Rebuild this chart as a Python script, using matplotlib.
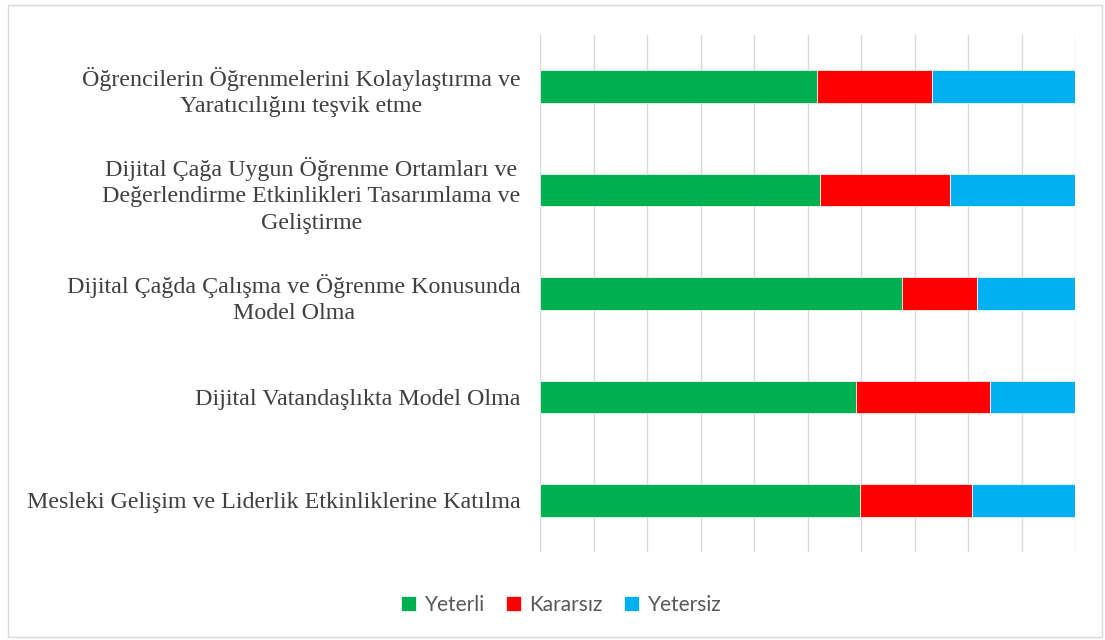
import matplotlib.pyplot as plt
import numpy as np
from matplotlib.patches import Rectangle

# Kategoriler (yukarıdan aşağıya)
categories = [
    'Öğrencilerin Öğrenmelerini Kolaylaştırma ve\nYaratıcılığını teşvik etme',
    'Dijital Çağa Uygun Öğrenme Ortamları ve\nDeğerlendirme Etkinlikleri Tasarımlama ve\nGeliştirme',
    'Dijital Çağda Çalışma ve Öğrenme Konusunda\nModel Olma',
    'Dijital Vatandaşlıkta Model Olma',
    'Mesleki Gelişim ve Liderlik Etkinliklerine Katılma',
]
yeterli = [51.7, 52.3, 67.6, 59.1, 59.8]
kararsiz = [21.6, 24.4, 14.1, 25.0, 20.9]
yetersiz = [26.7, 23.3, 18.3, 15.9, 19.3]

series = ['Yeterli', 'Kararsız', 'Yetersiz']
colors = ['#00B050', '#FF0000', '#00B0F0']

fig = plt.figure(figsize=(11.05, 6.4), dpi=100)
ax = fig.add_axes([540 / 1105, 1 - 552 / 640, 535 / 1105, 517 / 640])

y = np.arange(len(categories))
left = np.zeros(len(categories))
for name, vals, c in zip(series, [yeterli, kararsiz, yetersiz], colors):
    ax.barh(y, vals, left=left, height=0.316, color=c, label=name,
            edgecolor='white', linewidth=0.5, zorder=3)
    left = left + np.array(vals)

ax.set_xlim(0, 100)
ax.set_ylim(len(categories) - 0.5, -0.5)
ax.set_xticks(np.arange(0, 101, 10))
ax.set_xticklabels([])
ax.tick_params(axis='x', length=0)
ax.grid(axis='x', color='#d9d9d9', linewidth=1, zorder=0)
for s in ax.spines.values():
    s.set_visible(False)

ax.set_yticks(y)
ax.set_yticklabels(categories, fontsize=17.3, family='Liberation Serif',
                   color='#404040', linespacing=1.35, multialignment='center')
ax.tick_params(axis='y', length=0, pad=14)

leg = fig.legend(loc='center', bbox_to_anchor=(561 / 1105, 1 - 605 / 640), ncol=3,
                 frameon=False, prop={'family': 'Lato', 'size': 15},
                 handlelength=0.75, handleheight=0.75, handletextpad=0.4,
                 columnspacing=1.0)
for t in leg.get_texts():
    t.set_color('#595959')

# çerçeve
fig.patches.append(Rectangle((8 / 1105, 3 / 640), 1094 / 1105, 632 / 640,
                             transform=fig.transFigure, fill=False,
                             edgecolor='#d9d9d9', linewidth=1))

fig.savefig('out.png', dpi=100)
